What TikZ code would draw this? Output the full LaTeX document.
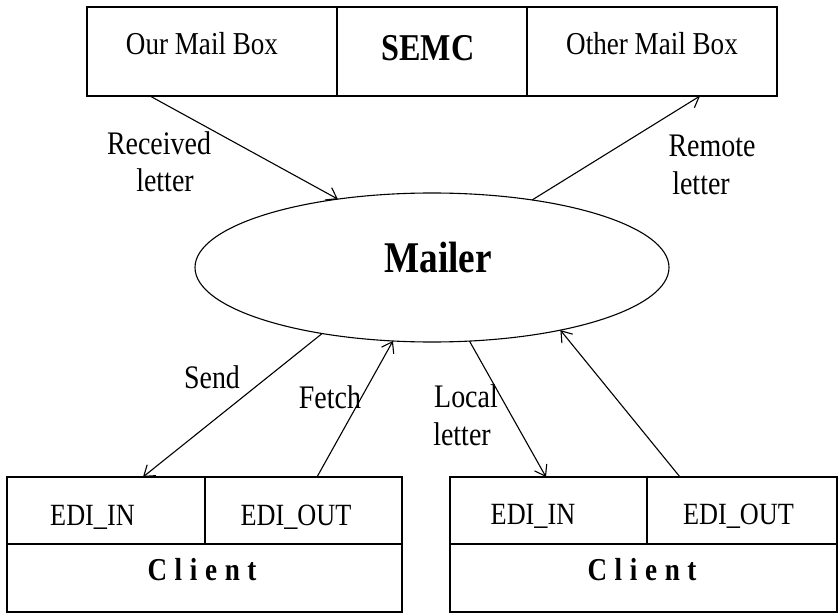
\documentclass[tikz,border=0pt]{standalone}
\usepackage{fontspec}
\setmainfont{Liberation Serif}
\usetikzlibrary{shapes.geometric,arrows.meta,calc}
\newcommand\nx[1]{\scalebox{0.85}[1]{#1}}
\newcommand\fs[1]{\fontsize{#1}{#1}\selectfont}
\newcommand\spacedclient{\textbf{C\kern9bp l\kern9bp i\kern9bp e\kern9bp n\kern9bp t}}
\begin{document}
\begin{tikzpicture}[x=1bp,y=-1bp,
  cell/.style={draw, line width=1.1bp, rectangle, inner sep=0pt, outer sep=0pt, anchor=north west},
  lbl/.style={inner sep=0pt, anchor=base},
  conn/.style={line width=1.1bp, -{Straight Barb[length=10bp,width=14bp]}}]
\useasboundingbox (0,0) rectangle (839,613);
% top box
\node[cell, minimum width=250bp, minimum height=89bp] (omb) at (87,7) {};
\node[cell, minimum width=190bp, minimum height=89bp] (semc) at (337,7) {};
\node[cell, minimum width=250bp, minimum height=89bp] (other) at (527,7) {};
\node[lbl] (tomb) at (202,55) {\fs{32}\nx{Our Mail Box}};
\node[lbl] (tsemc) at (428,61) {\fs{38}\nx{\textbf{SEMC}}};
\node[lbl] (tother) at (652,55) {\fs{32}\nx{Other Mail Box}};
% mailer
\node[draw, ellipse, line width=1.1bp, minimum width=474bp, minimum height=149bp, inner sep=0pt, outer sep=0pt] (mailer) at (432,267.5) {};
\node[lbl] (tmailer) at (438,272) {\fs{44}\nx{\textbf{Mailer}}};
% client 1
\node[cell, minimum width=198bp, minimum height=67bp] (in1) at (7,477) {};
\node[cell, minimum width=197bp, minimum height=67bp] (out1) at (205,477) {};
\node[cell, minimum width=395bp, minimum height=68bp] (cl1) at (7,544) {};
\node[lbl] (tin1) at (92.5,525) {\fs{31}\nx{EDI\_IN}};
\node[lbl] (tout1) at (296,525) {\fs{31}\nx{EDI\_OUT}};
\node[lbl] (tcl1) at (202,580) {\fs{32}\nx{\spacedclient}};
% client 2
\node[cell, minimum width=197bp, minimum height=67bp] (in2) at (450,477) {};
\node[cell, minimum width=190bp, minimum height=67bp] (out2) at (647,477) {};
\node[cell, minimum width=387bp, minimum height=68bp] (cl2) at (450,544) {};
\node[lbl] (tin2) at (533,524) {\fs{31}\nx{EDI\_IN}};
\node[lbl] (tout2) at (738.5,524) {\fs{31}\nx{EDI\_OUT}};
\node[lbl] (tcl2) at (642,580) {\fs{32}\nx{\spacedclient}};
% labels
\node[lbl] (lrec1) at (159,155) {\fs{33}\nx{Received}};
\node[lbl] (lrec2) at (165,192) {\fs{33}\nx{letter}};
\node[lbl] (lrem1) at (712,157) {\fs{33}\nx{Remote}};
\node[lbl] (lrem2) at (701,195) {\fs{33}\nx{letter}};
\node[lbl] (lsend) at (212,388) {\fs{33}\nx{Send}};
\node[lbl] (lfetch) at (330,408) {\fs{33}\nx{Fetch}};
\node[lbl] (lloc1) at (466,407) {\fs{33}\nx{Local}};
\node[lbl] (lloc2) at (462,445) {\fs{33}\nx{letter}};
% connectors
\draw[conn] ([xshift=-62bp]omb.south) -- (mailer.144.3);
\draw[conn] (mailer.34.1) -- ([xshift=48bp]other.south);
\draw[conn] (mailer.211.2) -- ([xshift=37bp]in1.north);
\draw[conn] ([xshift=13.5bp]out1.north) -- (mailer.242);
\draw[conn] (mailer.297) -- ([xshift=-2.5bp]in2.north);
\draw[conn] ([xshift=-62bp]out2.north) -- (mailer.334.8);
\end{tikzpicture}
\end{document}
